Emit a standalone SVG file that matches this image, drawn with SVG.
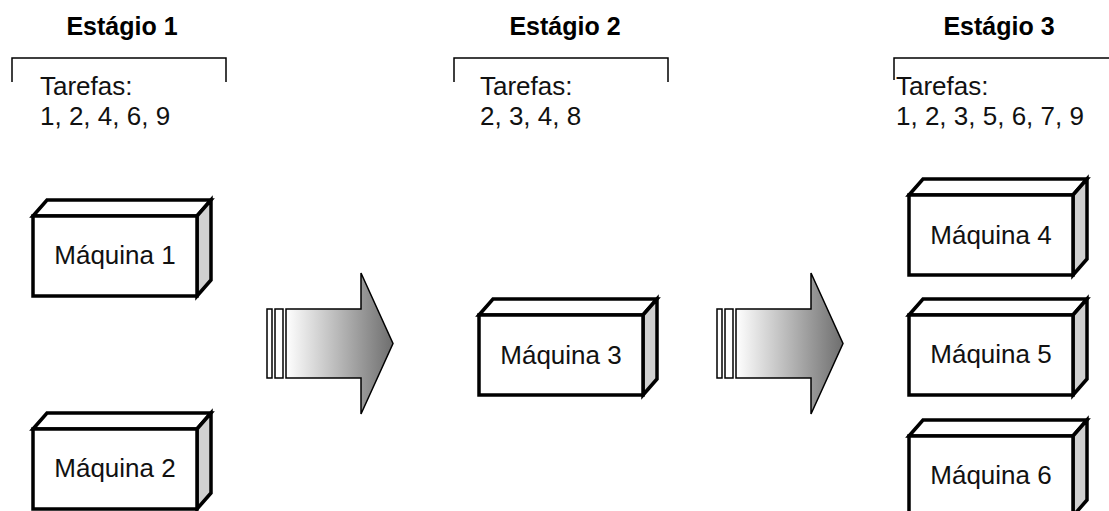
<svg xmlns="http://www.w3.org/2000/svg" width="1109" height="511" viewBox="0 0 1109 511">
  <style>
    .title { font-family: "Liberation Sans", Arial, sans-serif; font-size: 25px; font-weight: bold; fill: #000; text-anchor: middle; }
    .task { font-family: "Liberation Sans", Arial, sans-serif; font-size: 26px; fill: #111; }
    .label { font-family: "Liberation Sans", Arial, sans-serif; font-size: 26px; fill: #111; text-anchor: middle; }
    .bracket { fill: none; stroke: #000; stroke-width: 1.5; }
    .front { fill: #fff; stroke: #000; stroke-width: 3.5; stroke-linejoin: miter; }
    .top { fill: #fff; stroke: #000; stroke-width: 3.5; stroke-linejoin: miter; }
    .side { fill: #d0d0d0; stroke: #000; stroke-width: 3.5; stroke-linejoin: miter; }
    .arrow { fill: url(#flow); stroke: #000; stroke-width: 1.5; stroke-linejoin: miter; }
    .bar { fill: #fff; stroke: #000; stroke-width: 1.5; }
  </style>
  <defs>
    <linearGradient id="flow" x1="0" y1="0" x2="1" y2="0">
      <stop offset="0" stop-color="#ffffff"/>
      <stop offset="1" stop-color="#6e6e6e"/>
    </linearGradient>
    <!-- 3D machine block: front face 164x80, depth 14 right / 16 up -->
    <g id="block">
      <polygon class="top" points="0,0 14,-16 178,-16 164,0"/>
      <polygon class="side" points="164,0 178,-16 178,64 164,80"/>
      <rect class="front" x="0" y="0" width="164" height="80"/>
    </g>
    <!-- Flow arrow between stages -->
    <g id="flowArrow">
      <rect class="bar" x="0" y="0" width="5" height="69"/>
      <rect class="bar" x="8" y="0" width="8" height="69"/>
      <polygon class="arrow" points="19,0 94,0 94,-36 126,34.5 94,105 94,69 19,69"/>
    </g>
  </defs>

  <!-- Stage headers and task lists -->
  <g id="stage1">
    <text class="title" x="122" y="35">Estágio 1</text>
    <polyline class="bracket" points="12,82 12,58 226,58 226,82"/>
    <text class="task" x="40" y="95">Tarefas:</text>
    <text class="task" x="40" y="125">1, 2, 4, 6, 9</text>
  </g>
  <g id="stage2">
    <text class="title" x="565" y="35">Estágio 2</text>
    <polyline class="bracket" points="454,82 454,58 668,58 668,82"/>
    <text class="task" x="480" y="95">Tarefas:</text>
    <text class="task" x="480" y="125">2, 3, 4, 8</text>
  </g>
  <g id="stage3">
    <text class="title" x="999" y="35">Estágio 3</text>
    <polyline class="bracket" points="894,80 894,58 1109,58"/>
    <text class="task" x="896" y="95">Tarefas:</text>
    <text class="task" x="896" y="125">1, 2, 3, 5, 6, 7, 9</text>
  </g>

  <!-- Machines -->
  <g id="maquina1">
    <use href="#block" x="33" y="216"/>
    <text class="label" x="115" y="264">Máquina 1</text>
  </g>
  <g id="maquina2">
    <use href="#block" x="33" y="429"/>
    <text class="label" x="115" y="477">Máquina 2</text>
  </g>
  <g id="maquina3">
    <use href="#block" x="479" y="315"/>
    <text class="label" x="561" y="364">Máquina 3</text>
  </g>
  <g id="maquina4">
    <use href="#block" x="909" y="195"/>
    <text class="label" x="991" y="244">Máquina 4</text>
  </g>
  <g id="maquina5">
    <use href="#block" x="909" y="315"/>
    <text class="label" x="991" y="363">Máquina 5</text>
  </g>
  <g id="maquina6">
    <use href="#block" x="909" y="436"/>
    <text class="label" x="991" y="484">Máquina 6</text>
  </g>

  <!-- Flow connectors -->
  <g id="connectors">
    <use href="#flowArrow" x="267" y="309"/>
    <use href="#flowArrow" x="717" y="309"/>
  </g>
</svg>
